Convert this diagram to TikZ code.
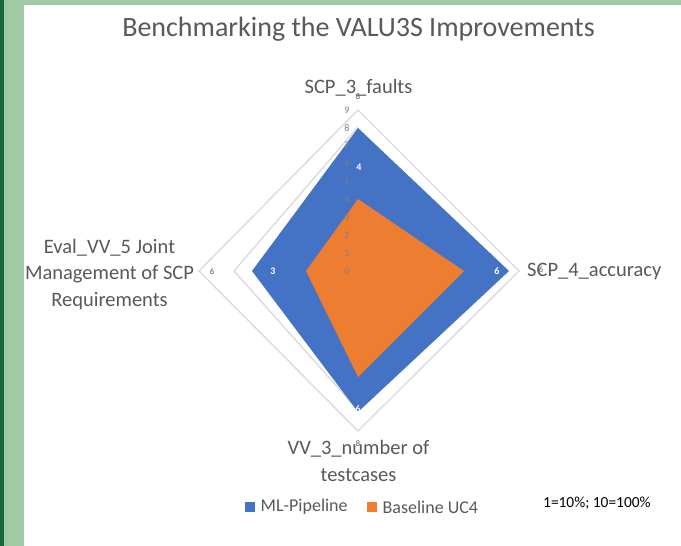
\documentclass[tikz,border=0pt]{standalone}
\usepackage{fontspec}
\setmainfont{Carlito}
\definecolor{frameDark}{HTML}{17683A}
\definecolor{frameLight}{HTML}{A0C9A4}
\definecolor{seriesBlue}{HTML}{4472C4}
\definecolor{seriesOrange}{HTML}{ED7D31}
\definecolor{gridGray}{HTML}{D9D9D9}
\definecolor{textGray}{HTML}{595959}
\definecolor{tickGray}{HTML}{7F7F7F}
\tikzset{
  titletext/.style={text=textGray, font=\fontsize{28}{32}\selectfont, inner sep=0pt, anchor=base},
  axislabel/.style={text=textGray, font=\fontsize{20.5}{26.5}\selectfont, inner sep=0pt, align=center, anchor=base},
  ticklabel/.style={text=tickGray, font=\fontsize{10}{11}\selectfont, inner sep=0pt},
  datalabel/.style={text=white, font=\bfseries\fontsize{10}{11}\selectfont, inner sep=0pt},
  ghostlabel/.style={text=textGray, font=\fontsize{8.5}{10}\selectfont, inner sep=0pt},
  gridline/.style={draw=gridGray, line width=1.3pt, line join=miter},
  legendbox/.style={minimum size=10pt, inner sep=0pt},
  legendtext/.style={text=textGray, font=\fontsize{18}{21}\selectfont, inner sep=0pt, anchor=west},
  notetext/.style={text=black, font=\fontsize{15.4}{18}\selectfont, inner sep=0pt, anchor=west}
}
\begin{document}
\begin{tikzpicture}[x=1pt, y=-1pt]
\useasboundingbox (0,0) rectangle (681,546);
% page background and slide frame
\fill[white] (0,0) rectangle (681,546);
\fill[frameLight] (0,0) rectangle (681,5);
\fill[frameLight] (0,0) rectangle (24,546);
\fill[frameDark] (0,0) rectangle (4,546);

% title
\node[titletext] (title) at (358.5,36) {Benchmarking the VALU3S Improvements};

% radar grid
\coordinate (c) at (358,271);
\draw[gridline] (358,110) -- (519,271) -- (358,431) -- (199,271) -- cycle;
\draw[gridline] (358,127) -- (234,271) -- (358,410);

% data series
\fill[seriesBlue] (358,128) -- (509,271) -- (358,412) -- (252,271) -- cycle;
\fill[seriesOrange] (358,199) -- (464,271) -- (358,377) -- (306,271) -- cycle;

% radial axis ticks
\foreach \v in {0,...,9}
  \node[ticklabel] (tick\v) at (347,271-\v*17.9) {\v};

% data labels
\node[datalabel] (dtop) at (359,167) {4};
\node[datalabel] (dright) at (497,271) {6};
\node[datalabel] (dbottom) at (358,409) {6};
\node[datalabel] (dleft) at (273,271) {3};
\node[ghostlabel] (gleft) at (212,272) {6};

% category labels (base = baseline of the last line)
\node[axislabel] (atop) at (358.5,93) {SCP\_3\_faults};
\node[axislabel, anchor=base west] (aright) at (527,276) {SCP\_4\_accuracy};
\node[axislabel] (aleft) at (109.5,306) {Eval\_VV\_5 Joint\\Management of SCP\\Requirements};
\node[axislabel] (abottom) at (358.5,481) {VV\_3\_number of\\testcases};
\node[ghostlabel] (gtop) at (358,97) {8};
\node[ghostlabel] (gright) at (541,270) {6};
\node[ghostlabel] (gbottom) at (358,444) {8};

% legend
\node[legendbox, fill=seriesBlue] (lb) at (250,507) {};
\node[legendtext] (lbt) at (260.5,507) {ML-Pipeline};
\node[legendbox, fill=seriesOrange] (lo) at (372,507) {};
\node[legendtext] (lot) at (382.5,507) {Baseline UC4};
\node[notetext] (note) at (543,503) {1=10\%; 10=100\%};
\end{tikzpicture}
\end{document}
